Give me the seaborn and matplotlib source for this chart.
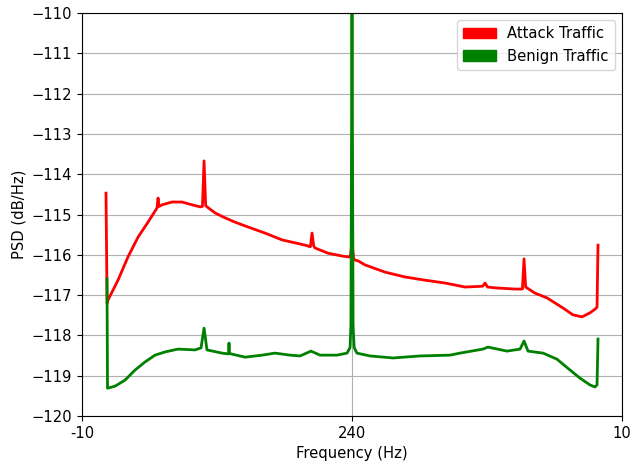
import numpy as np
import pandas as pd
import matplotlib
matplotlib.use("Agg")
import matplotlib.pyplot as plt
from matplotlib.patches import Patch
import seaborn as sns

# values (frequency, PSD in dB/Hz)
attack_freq = [12.2, 13.2, 14.1, 23.3, 32.6, 41.9, 51.1, 59.4, 60.4, 61.3, 64.1, 73.3, 82.6,
               91.9, 99.3, 101.5, 103.0, 104.5, 105.7, 113.2, 120.6, 131.7, 143.7, 159.4,
               175.2, 196.5, 201.5, 203.0, 204.5, 205.7, 217.8, 230.7, 236.3, 238.5, 240.0,
               241.5, 242.8, 245.6, 252.0, 270.6, 289.1, 307.6, 326.1, 344.6, 361.0, 363.2,
               365.5, 372.4, 390.9, 397.8, 399.3, 400.8, 404.8, 409.4, 420.6, 435.4, 444.6,
               453.0, 460.4, 465.0, 466.9, 467.8]
attack_psd = [-114.47, -117.20, -117.12, -116.63, -116.05, -115.56, -115.19, -114.84, -114.59,
              -114.80, -114.76, -114.69, -114.69, -114.76, -114.81, -114.80, -113.67, -114.78,
              -114.81, -114.96, -115.06, -115.19, -115.31, -115.46, -115.63, -115.76, -115.80,
              -115.46, -115.78, -115.83, -115.96, -116.03, -116.05, -116.05, -115.68, -116.10,
              -116.13, -116.15, -116.25, -116.43, -116.55, -116.63, -116.70, -116.80, -116.78,
              -116.70, -116.80, -116.82, -116.85, -116.85, -116.10, -116.80, -116.87, -116.95,
              -117.07, -117.32, -117.49, -117.54, -117.44, -117.35, -117.30, -115.76]

benign_freq = [13.1, 13.6, 20.6, 29.8, 39.1, 48.3, 57.6, 66.9, 78.9, 94.6, 100.2, 103.0, 105.7,
               119.6, 125.6, 126.1, 126.6, 140.9, 156.7, 168.7, 182.6, 191.9, 202.0, 210.4,
               226.1, 235.4, 238.2, 239.0, 240.0, 241.0, 242.0, 244.6, 256.7, 278.0, 303.0,
               330.7, 340.0, 361.3, 365.9, 383.5, 395.6, 399.3, 403.0, 416.9, 429.8, 441.9,
               451.1, 460.4, 465.0, 466.9, 467.8]
benign_psd = [-116.60, -119.31, -119.26, -119.11, -118.86, -118.66, -118.49, -118.41, -118.34,
              -118.36, -118.31, -117.82, -118.36, -118.44, -118.46, -118.19, -118.45, -118.54,
              -118.49, -118.44, -118.49, -118.51, -118.39, -118.49, -118.49, -118.44, -118.30,
              -117.75, -109.50, -117.75, -118.30, -118.44, -118.51, -118.56, -118.51, -118.49,
              -118.44, -118.34, -118.29, -118.39, -118.34, -118.14, -118.39, -118.44, -118.59,
              -118.86, -119.06, -119.23, -119.28, -119.23, -118.09]

x_ticks = [-10, 240, 490]
x_tick_labels = ["-10", "240", "10"]
y_ticks = list(range(-120, -109))

attack = pd.DataFrame({"freq": attack_freq, "psd": attack_psd})
benign = pd.DataFrame({"freq": benign_freq, "psd": benign_psd})

plt.rcParams["font.size"] = 10.6

fig = plt.figure(figsize=(6.31, 4.65), dpi=100)
ax = fig.add_axes([0.13, 0.1054, 0.8557, 0.8666])

sns.lineplot(data=attack, x="freq", y="psd", color="red", lw=2,
             estimator=None, sort=False, ax=ax)
sns.lineplot(data=benign, x="freq", y="psd", color="green", lw=2,
             estimator=None, sort=False, ax=ax)

ax.set_xlim(-10, 490)
ax.set_ylim(-120, -110)
ax.set_xticks(x_ticks)
ax.set_xticklabels(x_tick_labels)
ax.set_yticks(y_ticks)
ax.grid(True)
ax.set_xlabel("Frequency (Hz)")
ax.set_ylabel("PSD (dB/Hz)")

handles = [Patch(color="red", label="Attack Traffic"),
           Patch(color="green", label="Benign Traffic")]
ax.legend(handles=handles, loc="upper right", handlelength=2.2)

fig.savefig("out.png", dpi=100)
